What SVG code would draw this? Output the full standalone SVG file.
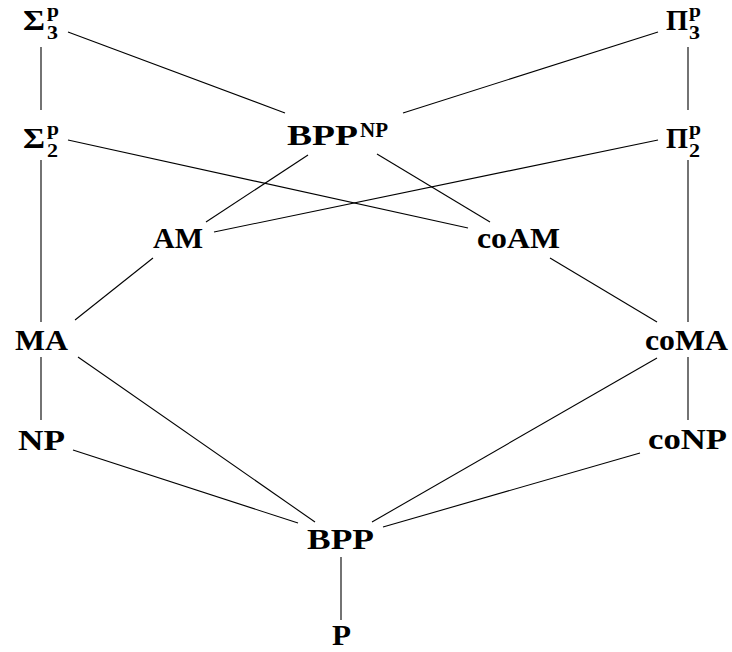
<svg xmlns="http://www.w3.org/2000/svg" width="732" height="652" viewBox="0 0 732 652">
<style>
text{font-family:"Liberation Serif","DejaVu Serif",serif;font-weight:bold;fill:#000;}
.m{font-size:29px;}
.s{font-size:19px;}
.n{font-size:21px;}
.e line{stroke:#000;stroke-width:1.1;fill:none;}
</style>
<rect width="732" height="652" fill="#fff"/>
<g class="e" id="connectors">
<line x1="41" y1="47" x2="41" y2="110"/>
<line x1="41" y1="160" x2="41" y2="322"/>
<line x1="41" y1="357" x2="41" y2="420"/>
<line x1="688" y1="47" x2="688" y2="110"/>
<line x1="688" y1="160" x2="688" y2="322"/>
<line x1="688" y1="357" x2="688" y2="420"/>
<line x1="341" y1="557" x2="341" y2="620"/>
<line x1="68" y1="32" x2="285" y2="113"/>
<line x1="658" y1="32" x2="403" y2="113"/>
<line x1="68" y1="140" x2="468" y2="228"/>
<line x1="658" y1="140" x2="214" y2="232"/>
<line x1="308" y1="155" x2="206" y2="222"/>
<line x1="377" y1="154" x2="490" y2="222"/>
<line x1="153" y1="258" x2="75" y2="320"/>
<line x1="550" y1="258" x2="657" y2="322"/>
<line x1="78" y1="357" x2="315" y2="522"/>
<line x1="657" y1="358" x2="372" y2="522"/>
<line x1="73" y1="450" x2="298" y2="523"/>
<line x1="640" y1="453" x2="383" y2="527"/>
</g>
<g id="sigma3"><text class="m" x="23" y="30" textLength="22" lengthAdjust="spacingAndGlyphs">Σ</text><text class="s" x="47" y="17" textLength="12" lengthAdjust="spacingAndGlyphs">p</text><text class="s" x="47" y="39" textLength="11" lengthAdjust="spacingAndGlyphs">3</text></g>
<g id="sigma2"><text class="m" x="23" y="148" textLength="22" lengthAdjust="spacingAndGlyphs">Σ</text><text class="s" x="47" y="135" textLength="12" lengthAdjust="spacingAndGlyphs">p</text><text class="s" x="47" y="157" textLength="11" lengthAdjust="spacingAndGlyphs">2</text></g>
<g id="pi3"><text class="m" x="666" y="30" textLength="22" lengthAdjust="spacingAndGlyphs">Π</text><text class="s" x="689" y="17" textLength="12" lengthAdjust="spacingAndGlyphs">p</text><text class="s" x="689" y="39" textLength="11" lengthAdjust="spacingAndGlyphs">3</text></g>
<g id="pi2"><text class="m" x="666" y="148" textLength="22" lengthAdjust="spacingAndGlyphs">Π</text><text class="s" x="689" y="135" textLength="12" lengthAdjust="spacingAndGlyphs">p</text><text class="s" x="689" y="157" textLength="11" lengthAdjust="spacingAndGlyphs">2</text></g>
<g id="bppnp"><text class="m" x="287" y="145" textLength="71" lengthAdjust="spacingAndGlyphs">BPP</text><text class="n" x="360" y="137" textLength="28" lengthAdjust="spacingAndGlyphs">NP</text></g>
<g id="am"><text class="m" x="153" y="248" textLength="50" lengthAdjust="spacingAndGlyphs">AM</text></g>
<g id="coam"><text class="m" x="477" y="248" textLength="83" lengthAdjust="spacingAndGlyphs">coAM</text></g>
<g id="ma"><text class="m" x="15" y="350" textLength="53" lengthAdjust="spacingAndGlyphs">MA</text></g>
<g id="coma"><text class="m" x="645" y="350" textLength="83" lengthAdjust="spacingAndGlyphs">coMA</text></g>
<g id="np"><text class="m" x="18" y="450" textLength="47" lengthAdjust="spacingAndGlyphs">NP</text></g>
<g id="conp"><text class="m" x="648" y="449" textLength="79" lengthAdjust="spacingAndGlyphs">coNP</text></g>
<g id="bpp"><text class="m" x="307" y="549" textLength="67" lengthAdjust="spacingAndGlyphs">BPP</text></g>
<g id="p"><text class="m" x="332" y="645" textLength="19" lengthAdjust="spacingAndGlyphs">P</text></g>
</svg>
